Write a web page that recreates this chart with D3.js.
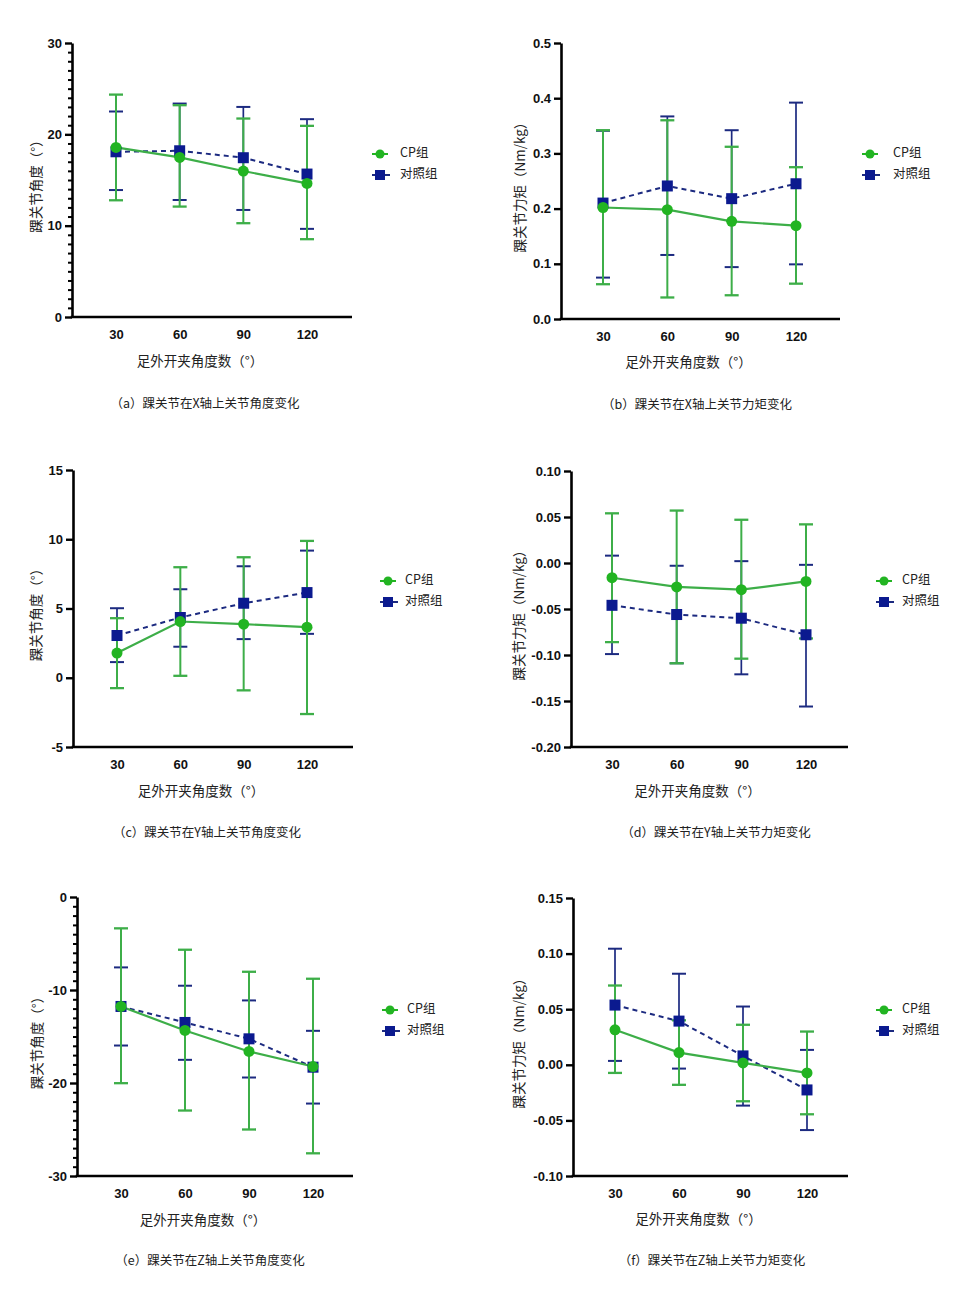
<!DOCTYPE html>
<html><head><meta charset="utf-8">
<script src="https://cdn.jsdelivr.net/npm/d3@7"></script>
<style>
body{margin:0;background:#fff;}
svg{display:block;}
</style></head>
<body>
<svg id="chart" width="979" height="1299"></svg>
<script>
// ---------- DATA ----------
const angles = [30, 60, 90, 120];
const seriesNames = ["CP组", "对照组"];
const xTitle = "足外开夹角度数（°）";

// (a) X-axis angle
const a_cp_mean = [18.57, 17.47, 15.98, 14.63];
const a_cp_hi   = [24.35, 23.19, 21.73, 20.93];
const a_cp_lo   = [12.78, 12.09, 10.27, 8.52];
const a_ct_mean = [18.09, 18.20, 17.44, 15.65];
const a_ct_hi   = [22.50, 23.37, 23.00, 21.66];
const a_ct_lo   = [13.90, 12.81, 11.72, 9.65];
const a_yticks  = [0, 10, 20, 30];

// (b) X-axis moment
const b_cp_mean = [0.202, 0.198, 0.177, 0.169];
const b_cp_hi   = [0.342, 0.360, 0.312, 0.275];
const b_cp_lo   = [0.063, 0.039, 0.043, 0.064];
const b_ct_mean = [0.210, 0.241, 0.218, 0.245];
const b_ct_hi   = [0.341, 0.367, 0.342, 0.392];
const b_ct_lo   = [0.075, 0.116, 0.094, 0.099];
const b_yticks  = [0, 0.1, 0.2, 0.3, 0.4, 0.5];

// (c) Y-axis angle
const c_cp_mean = [1.78, 4.06, 3.87, 3.65];
const c_cp_hi   = [4.30, 7.98, 8.70, 9.88];
const c_cp_lo   = [-0.75, 0.14, -0.91, -2.62];
const c_ct_mean = [3.05, 4.35, 5.38, 6.15];
const c_ct_hi   = [5.02, 6.39, 8.05, 9.18];
const c_ct_lo   = [1.13, 2.24, 2.79, 3.17];
const c_yticks  = [-5, 0, 5, 10, 15];

// (d) Y-axis moment
const d_cp_mean = [-0.016, -0.026, -0.029, -0.020];
const d_cp_hi   = [0.054, 0.057, 0.047, 0.042];
const d_cp_lo   = [-0.086, -0.109, -0.104, -0.082];
const d_ct_mean = [-0.046, -0.056, -0.060, -0.078];
const d_ct_hi   = [0.008, -0.003, 0.002, -0.002];
const d_ct_lo   = [-0.099, -0.109, -0.121, -0.156];
const d_yticks  = [-0.20, -0.15, -0.10, -0.05, 0.00, 0.05, 0.10];

// (e) Z-axis angle
const e_cp_mean = [-11.77, -14.35, -16.61, -18.23];
const e_cp_hi   = [-3.37, -5.67, -8.04, -8.79];
const e_cp_lo   = [-20.02, -22.96, -25.00, -27.56];
const e_ct_mean = [-11.77, -13.49, -15.25, -18.30];
const e_ct_hi   = [-7.57, -9.54, -11.12, -14.39];
const e_ct_lo   = [-15.97, -17.51, -19.41, -22.21];
const e_yticks  = [-30, -20, -10, 0];

// (f) Z-axis moment
const f_cp_mean = [0.0315, 0.011, 0.0017, -0.0073];
const f_cp_hi   = [0.0713, 0.040, 0.036, 0.0299];
const f_cp_lo   = [-0.0073, -0.018, -0.0328, -0.0445];
const f_ct_mean = [0.0537, 0.0393, 0.008, -0.0226];
const f_ct_hi   = [0.1044, 0.0819, 0.0524, 0.0134];
const f_ct_lo   = [0.0035, -0.0034, -0.0367, -0.0587];
const f_yticks  = [-0.10, -0.05, 0.00, 0.05, 0.10, 0.15];

const yTitles = ["踝关节角度（°）", "踝关节力矩（Nm/kg）", "踝关节角度（°）", "踝关节力矩（Nm/kg）", "踝关节角度（°）", "踝关节力矩（Nm/kg）"];
const captions = ["（a）踝关节在X轴上关节角度变化", "（b）踝关节在X轴上关节力矩变化", "（c）踝关节在Y轴上关节角度变化", "（d）踝关节在Y轴上关节力矩变化", "（e）踝关节在Z轴上关节角度变化", "（f）踝关节在Z轴上关节力矩变化"];

// ---------- LAYOUT ----------
const panels = [
  {cp:[a_cp_mean,a_cp_hi,a_cp_lo], ct:[a_ct_mean,a_ct_hi,a_ct_lo], ticks:a_yticks, fmt:"d", minor:1,
   left:72, top:43, bottom:317, x30:116, x120:307, right:352, xtY:362, ytX:37, capX:205, capY:405, legX:380, legTX:400, legY:154},
  {cp:[b_cp_mean,b_cp_hi,b_cp_lo], ct:[b_ct_mean,b_ct_hi,b_ct_lo], ticks:b_yticks, fmt:".1f", minor:0,
   left:561, top:43, bottom:319, x30:603, x120:796, right:840, xtY:363, ytX:521, capX:697, capY:406, legX:870, legTX:893, legY:154},
  {cp:[c_cp_mean,c_cp_hi,c_cp_lo], ct:[c_ct_mean,c_ct_hi,c_ct_lo], ticks:c_yticks, fmt:"d", minor:0,
   left:73, top:470, bottom:747, x30:117, x120:307, right:353, xtY:792, ytX:37, capX:207, capY:834, legX:388, legTX:405, legY:581},
  {cp:[d_cp_mean,d_cp_hi,d_cp_lo], ct:[d_ct_mean,d_ct_hi,d_ct_lo], ticks:d_yticks, fmt:".2f", minor:0,
   left:571, top:471, bottom:747, x30:612, x120:806, right:848, xtY:792, ytX:520, capX:716, capY:834, legX:884, legTX:902, legY:581},
  {cp:[e_cp_mean,e_cp_hi,e_cp_lo], ct:[e_ct_mean,e_ct_hi,e_ct_lo], ticks:e_yticks, fmt:"d", minor:1,
   left:77, top:897, bottom:1176, x30:121, x120:313, right:353, xtY:1221, ytX:38, capX:210, capY:1262, legX:390, legTX:407, legY:1010},
  {cp:[f_cp_mean,f_cp_hi,f_cp_lo], ct:[f_ct_mean,f_ct_hi,f_ct_lo], ticks:f_yticks, fmt:".2f", minor:0,
   left:573, top:898, bottom:1176, x30:615, x120:807, right:848, xtY:1220, ytX:520, capX:712, capY:1262, legX:884, legTX:902, legY:1010}
];

const green = "#22b422", greenBar = "#3dae48", navy = "#0b1a8f", navyBar = "#1c2a80";
const svg = d3.select("#chart");
const numFont = "'Liberation Sans', Arial, sans-serif";
const cjkFont = "'Noto Sans CJK SC', 'Noto Sans', sans-serif";

panels.forEach((p, i) => {
  const g = svg.append("g");
  const x = d3.scaleLinear().domain([angles[0], angles[3]]).range([p.x30, p.x120]);
  const yd = d3.extent(p.ticks);
  const y = d3.scaleLinear().domain(yd).range([p.bottom, p.top]);
  const fmt = d => d3.format(p.fmt)(d).replace("\u2212", "-");

  // minor ticks
  if (p.minor) {
    const minorTicks = d3.range(yd[0], yd[1] + 0.001, p.minor).filter(v => !p.ticks.includes(v));
    g.append("g").attr("transform", `translate(${p.left},0)`)
      .call(d3.axisLeft(y).tickValues(minorTicks).tickSize(4).tickFormat(""))
      .call(s => s.select(".domain").remove())
      .selectAll("line").attr("stroke", "#000").attr("stroke-width", 2);
  }
  // y axis
  const ya = g.append("g").attr("transform", `translate(${p.left},0)`)
    .call(d3.axisLeft(y).tickValues(p.ticks).tickSize(7).tickPadding(3).tickFormat(fmt).tickSizeOuter(0));
  ya.select(".domain").attr("stroke", "#000").attr("stroke-width", 2.6);
  ya.selectAll("line").attr("stroke", "#000").attr("stroke-width", 2.4);
  ya.selectAll("text").attr("font-family", numFont).attr("font-weight", "bold").attr("font-size", 13).attr("fill", "#111");

  // x axis line
  g.append("line").attr("x1", p.left - 1.3).attr("x2", p.right).attr("y1", p.bottom).attr("y2", p.bottom)
    .attr("stroke", "#000").attr("stroke-width", 2.6);
  const xa = g.append("g").attr("transform", `translate(0,${p.bottom})`)
    .call(d3.axisBottom(x).tickValues(angles).tickSize(0).tickPadding(13));
  xa.select(".domain").remove();
  xa.selectAll("text").attr("font-family", numFont).attr("font-weight", "bold").attr("font-size", 13).attr("fill", "#111");

  // titles
  g.append("text").attr("x", (p.left + p.right) / 2 - 12).attr("y", p.xtY).attr("text-anchor", "middle")
    .attr("dominant-baseline", "middle").attr("font-family", cjkFont).attr("font-size", 13.5).attr("fill", "#222").text(xTitle);
  const yMid = (p.top + p.bottom) / 2 + 3;
  g.append("text").attr("transform", `translate(${p.ytX},${yMid}) rotate(-90)`).attr("text-anchor", "middle")
    .attr("dominant-baseline", "middle").attr("font-family", cjkFont).attr("font-size", 13.5).attr("fill", "#222").text(yTitles[i]);
  g.append("text").attr("x", p.capX).attr("y", p.capY).attr("text-anchor", "middle").attr("dominant-baseline", "middle")
    .attr("font-family", cjkFont).attr("font-size", 12.5).attr("fill", "#222").text(captions[i]);

  const cap = 7;
  function errorBars(ser, color, w) {
    const [m, hi, lo] = ser;
    const eb = g.append("g");
    angles.forEach((a, k) => {
      const cx = x(a);
      eb.append("line").attr("x1", cx).attr("x2", cx).attr("y1", y(hi[k])).attr("y2", y(lo[k])).attr("stroke", color).attr("stroke-width", w);
      [hi[k], lo[k]].forEach(v => eb.append("line").attr("x1", cx - cap).attr("x2", cx + cap).attr("y1", y(v)).attr("y2", y(v)).attr("stroke", color).attr("stroke-width", w + 0.3));
    });
  }
  errorBars(p.ct, navyBar, 1.7);
  errorBars(p.cp, greenBar, 2);

  const line = d3.line().x((d, k) => x(angles[k])).y(d => y(d));
  g.append("path").attr("d", line(p.ct[0])).attr("fill", "none").attr("stroke", navyBar).attr("stroke-width", 2).attr("stroke-dasharray", "5,4");
  g.append("path").attr("d", line(p.cp[0])).attr("fill", "none").attr("stroke", greenBar).attr("stroke-width", 2.2);

  g.selectAll(".sq").data(p.ct[0]).enter().append("rect")
    .attr("x", (d, k) => x(angles[k]) - 5.5).attr("y", d => y(d) - 5.5).attr("width", 11).attr("height", 11).attr("fill", navy);
  g.selectAll(".ci").data(p.cp[0]).enter().append("circle")
    .attr("cx", (d, k) => x(angles[k])).attr("cy", d => y(d)).attr("r", 5.5).attr("fill", green);

  // legend
  const lg = g.append("g");
  lg.append("line").attr("x1", p.legX - 8).attr("x2", p.legX + 8).attr("y1", p.legY).attr("y2", p.legY).attr("stroke", green).attr("stroke-width", 2);
  lg.append("circle").attr("cx", p.legX).attr("cy", p.legY).attr("r", 4.5).attr("fill", green);
  lg.append("text").attr("x", p.legTX).attr("y", p.legY).attr("dominant-baseline", "middle").attr("font-family", cjkFont)
    .attr("font-size", 12.5).attr("fill", "#222").text(seriesNames[0]);
  const ly2 = p.legY + 21;
  lg.append("line").attr("x1", p.legX - 8).attr("x2", p.legX + 10).attr("y1", ly2).attr("y2", ly2).attr("stroke", navyBar).attr("stroke-width", 2).attr("stroke-dasharray", "9,3");
  lg.append("rect").attr("x", p.legX - 5).attr("y", ly2 - 5).attr("width", 10).attr("height", 10).attr("fill", navy);
  lg.append("text").attr("x", p.legTX).attr("y", ly2).attr("dominant-baseline", "middle").attr("font-family", cjkFont)
    .attr("font-size", 12.5).attr("fill", "#222").text(seriesNames[1]);
});
</script>
</body></html>
